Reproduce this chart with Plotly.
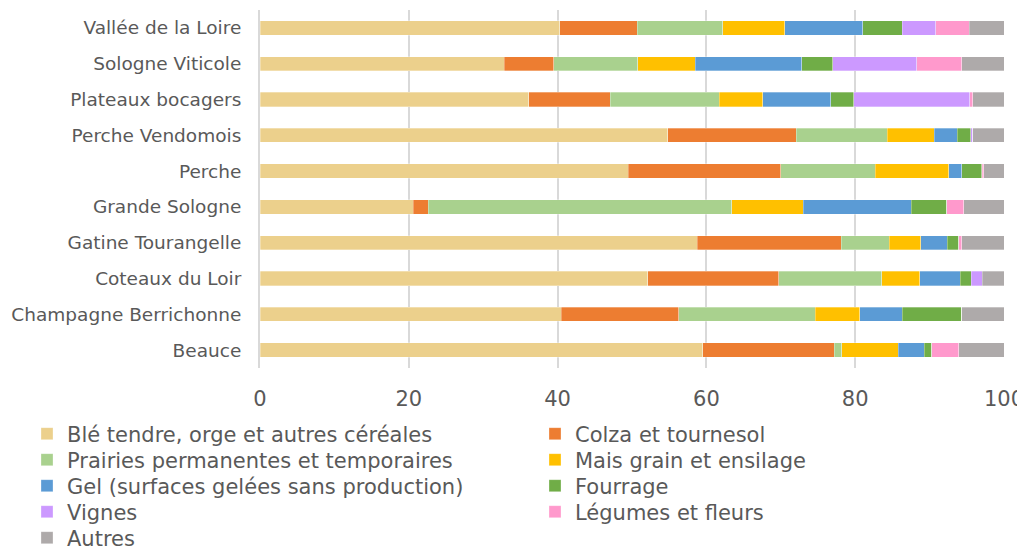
import plotly.graph_objects as go

regions = ["Vallée de la Loire", "Sologne Viticole", "Plateaux bocagers", "Perche Vendomois",
           "Perche", "Grande Sologne", "Gatine Tourangelle", "Coteaux du Loir",
           "Champagne Berrichonne", "Beauce"]

series_names = ["Blé tendre, orge et autres céréales", "Colza et tournesol",
                "Prairies permanentes et temporaires", "Mais grain et ensilage",
                "Gel (surfaces gelées sans production)", "Fourrage",
                "Vignes", "Légumes et fleurs", "Autres"]

ble       = [40.3, 32.8, 36.1, 54.8, 49.5, 20.6, 58.8, 52.1, 40.5, 59.5]
colza     = [10.4,  6.7, 11.0, 17.3, 20.5,  2.0, 19.3, 17.6, 15.8, 17.7]
prairies  = [11.5, 11.3, 14.6, 12.2, 12.7, 40.8,  6.5, 13.9, 18.3,  1.0]
mais      = [ 8.3,  7.7,  5.9,  6.3,  9.9,  9.6,  4.2,  5.1,  6.0,  7.6]
gel       = [10.5, 14.3,  9.1,  3.1,  1.7, 14.5,  3.6,  5.4,  5.7,  3.5]
fourrage  = [ 5.3,  4.2,  3.1,  1.8,  2.7,  4.8,  1.5,  1.5,  8.0,  1.0]
vignes    = [ 4.5, 11.3, 15.6,  0.3,  0.1,  0.0,  0.0,  1.5,  0.0,  0.0]
legumes   = [ 4.5,  6.0,  0.4,  0.0,  0.2,  2.3,  0.4,  0.0,  0.0,  3.6]
autres    = [ 4.7,  5.7,  4.2,  4.2,  2.7,  5.4,  5.7,  2.9,  5.7,  6.1]

series_values = [ble, colza, prairies, mais, gel, fourrage, vignes, legumes, autres]
colors = ["#ECD08C", "#ED7D31", "#A9D18E", "#FFC000", "#5B9BD5", "#70AD47",
          "#CC99FF", "#FF99CC", "#AEAAAA"]

x_ticks = [0, 20, 40, 60, 80, 100]

FONT = "DejaVu Sans"
W, H = 1025, 550
# the page places the figure 8 px from the top-left corner
ML, MR, MT, MB = 252, 29, 2, 190
plot_w = W - ML - MR
plot_h = H - MT - MB
PAGE_OFF = 8
TEXT_OFF = 41

fig = go.Figure()
legend_layout = {}
for i, (name, vals, col) in enumerate(zip(series_names, series_values, colors)):
    lg = "legend" if i == 0 else f"legend{i + 1}"
    fig.add_trace(go.Bar(
        y=regions, x=vals, name=name, orientation="h", legend=lg, showlegend=True,
        marker=dict(color=col, line=dict(width=0.5, color="rgba(255,255,255,0.6)")),
    ))
    row, c = divmod(i, 2)
    text_x = (68 if c == 0 else 576) - PAGE_OFF
    y_px = 434 + row * 26 - PAGE_OFF
    legend_layout[lg] = dict(
        x=(text_x - TEXT_OFF - ML) / plot_w, xanchor="left",
        y=(H - MB - y_px) / plot_h, yanchor="middle",
        bgcolor="rgba(0,0,0,0)",
        font=dict(size=21, color="#595959", family=FONT),
        itemwidth=30,
    )

fig.update_layout(
    barmode="stack",
    bargap=0.6,
    width=W, height=H,
    showlegend=True,
    margin=dict(l=ML, r=MR, t=MT, b=MB, autoexpand=False),
    plot_bgcolor="white", paper_bgcolor="white",
    font=dict(family=FONT, color="#595959"),
    **legend_layout,
)
fig.update_xaxes(range=[0, 100], tickvals=x_ticks, showgrid=True, gridcolor="#D9D9D9",
                 gridwidth=2, zeroline=False, tickfont=dict(size=21, color="#595959"),
                 showline=False, ticks="", ticklabelstandoff=16)
fig.update_yaxes(autorange="reversed", showline=True, linecolor="#D9D9D9", linewidth=2,
                 tickfont=dict(size=18.5, color="#595959"), ticks="", ticklabelstandoff=13)

fig.write_html("out.html")
